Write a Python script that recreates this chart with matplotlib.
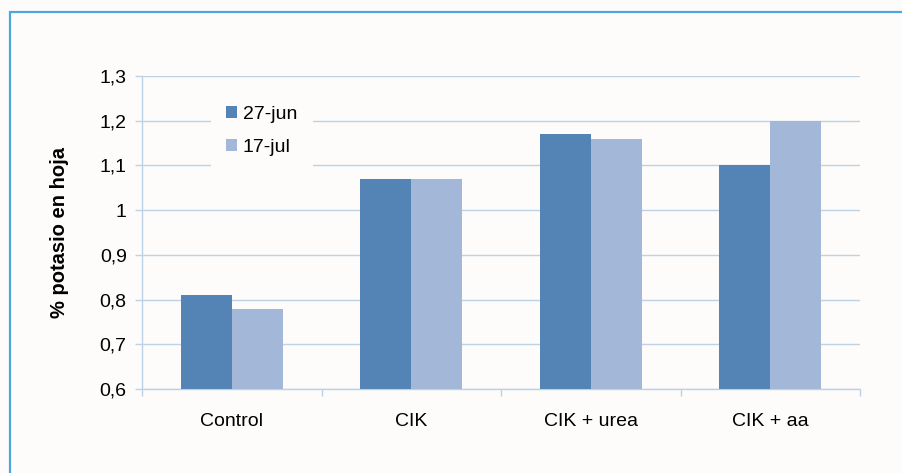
import matplotlib.pyplot as plt
import numpy as np
from matplotlib.patches import Rectangle

categories = ["Control", "CIK", "CIK + urea", "CIK + aa"]
series_names = ["27-jun", "17-jul"]
jun_values = [0.81, 1.07, 1.17, 1.10]
jul_values = [0.78, 1.07, 1.16, 1.20]
y_ticks = [0.6, 0.7, 0.8, 0.9, 1.0, 1.1, 1.2, 1.3]
y_tick_labels = ["0,6", "0,7", "0,8", "0,9", "1", "1,1", "1,2", "1,3"]

plt.rcParams['font.family'] = ['Liberation Sans', 'DejaVu Sans']

W, H = 902, 473
fig = plt.figure(figsize=(W / 100, H / 100), dpi=100)
fig.patch.set_facecolor('#fdfcfa')

# outer frame
frame = Rectangle((10 / W, -0.05), 1.1, 1 - 12 / H + 0.05, transform=fig.transFigure,
                  fill=False, edgecolor='#4da6df', linewidth=1.6, clip_on=False)
fig.add_artist(frame)

ax = fig.add_axes([142 / W, 84 / H, (860 - 142) / W, (389 - 76) / H])
ax.set_facecolor('#fdfcfa')

x = np.arange(len(categories))
bw = 0.284
dark = '#5384b5'
light = '#a3b8d9'
ax.bar(x - bw / 2, jun_values, width=bw, bottom=0, color=dark, label=series_names[0], zorder=3)
ax.bar(x + bw / 2, jul_values, width=bw, bottom=0, color=light, label=series_names[1], zorder=3)

ax.set_ylim(0.6, 1.3)
ax.set_xlim(-0.5, len(categories) - 0.5)
ax.set_yticks(y_ticks)
ax.set_yticklabels(y_tick_labels, fontsize=14)
grid_c = '#bdd2e4'
ax.yaxis.grid(True, color=grid_c, linewidth=1.0, zorder=0)
ax.set_axisbelow(True)

ax.set_xticks(x)
ax.set_xticklabels(categories, fontsize=14)
ax.set_xticks(np.arange(-0.5, len(categories)), minor=True)
ax.tick_params(axis='x', which='major', length=0, pad=17)
ax.tick_params(axis='x', which='minor', length=5, color=grid_c, width=1)
ax.tick_params(axis='y', length=5, color=grid_c, width=1, pad=6)

for s in ['top', 'right']:
    ax.spines[s].set_visible(False)
for s in ['left', 'bottom']:
    ax.spines[s].set_color(grid_c)
    ax.spines[s].set_linewidth(1.0)

ax.set_ylabel("% potasio en hoja", fontsize=14.5, fontweight='bold', labelpad=22)

leg = ax.legend(loc='upper left', bbox_to_anchor=(0.082, 0.985), frameon=True,
                fontsize=14, handlelength=0.55, handleheight=0.55, handletextpad=0.3,
                labelspacing=0.8, borderpad=0.8, fancybox=False)
leg.get_frame().set_facecolor('#fdfcfa')
leg.get_frame().set_edgecolor('none')
leg.get_frame().set_alpha(1)

fig.savefig('out.png', dpi=100, facecolor=fig.get_facecolor())
